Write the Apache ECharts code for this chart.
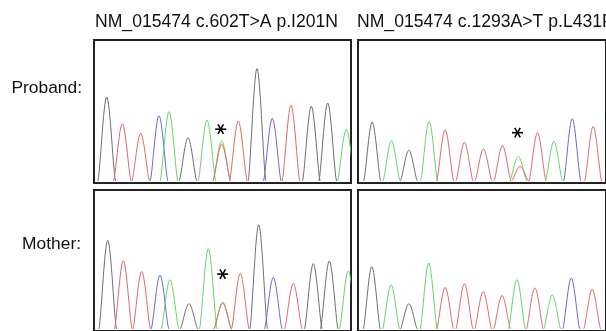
<!DOCTYPE html>
<html lang="en">
  <head>
    <meta charset="UTF-8" />
    <title>Sanger chromatograms</title>
    <script src="https://cdn.jsdelivr.net/npm/echarts@6/dist/echarts.min.js"></script>
    <style>
      html, body { margin: 0; padding: 0; background: #fff; }
    </style>
  </head>
  <body>
    <div id="main" style="width: 606px; height: 331px;"></div>
    <script type="text/javascript">
      // peak data per panel: scan position, peak height, called base
      var titles = ["NM_015474 c.602T>A p.I201N", "NM_015474 c.1293A>T p.L431F"];
      var rowLabels = ["Proband:", "Mother:"];

      var probandLeftPos = [12.7, 28.3, 46.7, 65, 75, 94, 113, 127.7, 127.7, 144.3, 163, 178.3, 197, 217.3, 233.7, 252.3];
      var probandLeftHeight = [84, 57.3, 47.7, 65.3, 69.3, 43.3, 61, 40, 36.7, 60, 112.3, 62.7, 75.7, 74.7, 78, 51.7];
      var probandLeftBase = ["G", "T", "T", "C", "A", "G", "A", "A", "T", "T", "G", "C", "T", "G", "G", "A"];

      var probandRightPos = [14.7, 34.7, 52.7, 73.7, 90.3, 110.3, 130, 149.7, 166, 168, 186, 203, 222, 243.7];
      var probandRightHeight = [59, 40.3, 30.7, 59.7, 51.3, 38.7, 32, 35.3, 24.7, 14.7, 48.3, 39.7, 62.3, 54.7];
      var probandRightBase = ["G", "A", "G", "A", "T", "T", "T", "T", "A", "T", "T", "A", "C", "T"];

      var motherLeftPos = [13.7, 29.3, 47.7, 66, 76, 95, 114.3, 128.7, 128.7, 146.3, 164.7, 179.3, 199.3, 219.3, 235.3, 254.3];
      var motherLeftHeight = [90, 69.3, 58.3, 54.7, 50, 25.7, 81.3, 27.3, 26.3, 56.3, 105.7, 52.3, 46.3, 66.3, 69, 59];
      var motherLeftBase = ["G", "T", "T", "C", "A", "G", "A", "A", "T", "T", "G", "C", "T", "G", "G", "A"];

      var motherRightPos = [14.3, 34.3, 52.7, 73.3, 90.3, 110.3, 129.7, 149.3, 164.7, 183.3, 201.3, 221, 242.7];
      var motherRightHeight = [63.3, 45, 25.7, 67, 42.3, 46, 38, 34, 50.3, 41.7, 34.7, 51.7, 40.3];
      var motherRightBase = ["G", "A", "G", "A", "T", "T", "T", "T", "A", "T", "A", "C", "T"];

      // asterisks over the variant position
      var markPanel = [0, 1, 2];
      var markPos = [126.7, 165.3, 128.7];
      var markHeight = [51.8, 48.3, 55.7];

      var baseColor = { G: "#6e6e6e", T: "#e06868", A: "#68d468", C: "#6868d8" };
      var PEAK_HALF = 9;

      var panels = [
        { pos: probandLeftPos, h: probandLeftHeight, base: probandLeftBase, left: 94, top: 40 },
        { pos: probandRightPos, h: probandRightHeight, base: probandRightBase, left: 358, top: 40 },
        { pos: motherLeftPos, h: motherLeftHeight, base: motherLeftBase, left: 94, top: 190 },
        { pos: motherRightPos, h: motherRightHeight, base: motherRightBase, left: 358, top: 190 },
      ];

      var myChart = echarts.init(document.getElementById("main"));

      function peakItem(bases) {
        return function (params, api) {
          var c = api.value(0);
          var h = api.value(1);
          var w = PEAK_HALF;
          var p0 = api.coord([c - w, 0]);
          var p1 = api.coord([c - 0.78 * w, 0]);
          var p2 = api.coord([c - 0.36 * w, h]);
          var top = api.coord([c, h]);
          var q2 = api.coord([c + 0.36 * w, h]);
          var q1 = api.coord([c + 0.78 * w, 0]);
          var q0 = api.coord([c + w, 0]);
          var style = { stroke: baseColor[bases[params.dataIndex]], fill: null, lineWidth: 1 };
          return {
            type: "group",
            children: [
              { type: "bezierCurve", shape: { x1: p0[0], y1: p0[1], cpx1: p1[0], cpy1: p1[1], cpx2: p2[0], cpy2: p2[1], x2: top[0], y2: top[1] }, style: style },
              { type: "bezierCurve", shape: { x1: top[0], y1: top[1], cpx1: q2[0], cpy1: q2[1], cpx2: q1[0], cpy2: q1[1], x2: q0[0], y2: q0[1] }, style: style },
            ],
          };
        };
      }

      function starItem(params, api) {
        var p = api.coord([api.value(0), api.value(1)]);
        var r = 5.5;
        var kids = [0, 60, 120].map(function (deg) {
          var a = (deg * Math.PI) / 180;
          return {
            type: "line",
            shape: { x1: p[0] - r * Math.cos(a), y1: p[1] - r * Math.sin(a), x2: p[0] + r * Math.cos(a), y2: p[1] + r * Math.sin(a) },
            style: { stroke: "#000", lineWidth: 1.6 },
          };
        });
        return { type: "group", children: kids };
      }

      var grids = [], xAxes = [], yAxes = [], series = [];
      panels.forEach(function (p, i) {
        grids.push({
          left: p.left, top: p.top, width: 257, height: 143,
          show: true, borderColor: "#222", borderWidth: 2, backgroundColor: "#fff",
        });
        xAxes.push({ type: "value", gridIndex: i, min: 0, max: 257, show: false });
        yAxes.push({ type: "value", gridIndex: i, min: -2, max: 141, show: false });
        series.push({
          type: "custom",
          xAxisIndex: i, yAxisIndex: i,
          clip: true,
          silent: true,
          renderItem: peakItem(p.base),
          data: p.pos.map(function (x, k) { return [x, p.h[k]]; }),
        });
      });

      markPanel.forEach(function (gi, k) {
        series.push({
          type: "custom",
          xAxisIndex: gi, yAxisIndex: gi,
          silent: true,
          renderItem: starItem,
          data: [[markPos[k], markHeight[k]]],
        });
      });

      var font = "'Liberation Sans', Arial, sans-serif";
      option = {
        animation: false,
        backgroundColor: "#fff",
        grid: grids,
        xAxis: xAxes,
        yAxis: yAxes,
        series: series,
        graphic: [
          { type: "text", left: 95, top: 13, style: { text: titles[0], font: "17.6px " + font, fill: "#111" } },
          { type: "text", left: 357, top: 13, style: { text: titles[1], font: "17.6px " + font, fill: "#111" } },
          { type: "text", right: 524, top: 80, style: { text: rowLabels[0], font: "17.4px " + font, fill: "#111" } },
          { type: "text", right: 525, top: 236, style: { text: rowLabels[1], font: "17.4px " + font, fill: "#111" } },
        ],
      };

      myChart.setOption(option);
    </script>
  </body>
</html>
